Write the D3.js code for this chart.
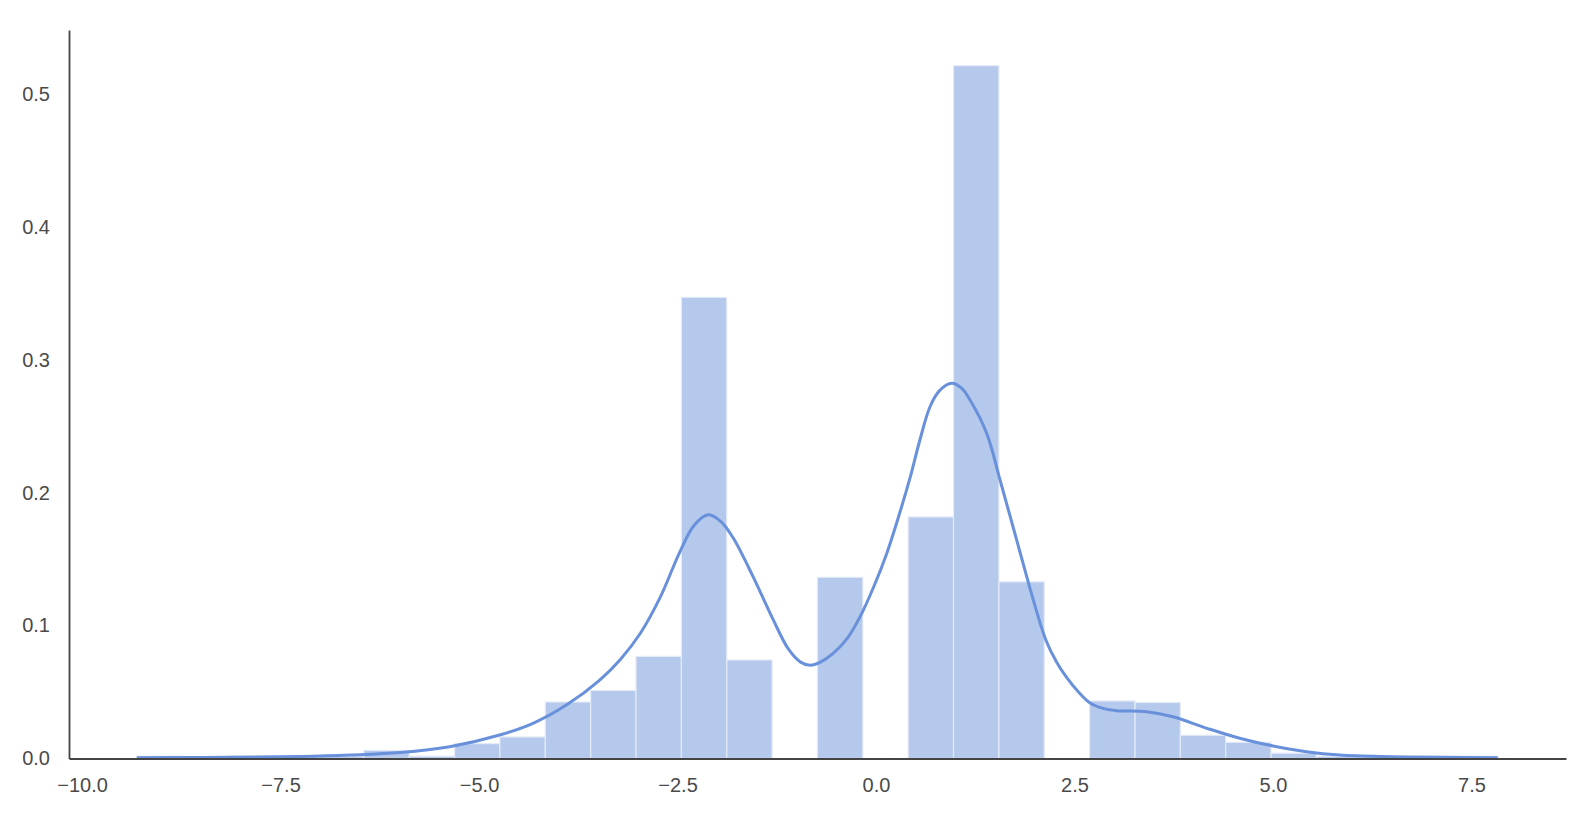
<!DOCTYPE html>
<html>
<head>
<meta charset="utf-8">
<script src="https://cdn.jsdelivr.net/npm/d3@7"></script>
<style>
    body { margin: 0; background: #fff; }
    svg { display: block; }
    .tick text { font-family: "Liberation Sans", Arial, sans-serif; font-size: 20px; fill: #4a4a4a; }
</style>
</head>
<body>
<svg id="chart" width="1586" height="818"></svg>
<script>
// histogram bin edges (31 edges, 30 bins)
const binEdges = [-9.307, -8.736, -8.164, -7.593, -7.022, -6.450, -5.879, -5.308, -4.737, -4.165,
    -3.594, -3.023, -2.451, -1.880, -1.309, -0.738, -0.166, 0.405, 0.976, 1.548,
    2.119, 2.690, 3.262, 3.833, 4.404, 4.975, 5.547, 6.118, 6.690, 7.261, 7.833];

// density per bin
const binDensity = [0.0017, 0, 0.0017, 0.0017, 0.0017, 0.0061, 0.0017, 0.0112, 0.0162, 0.0425,
    0.0512, 0.0768, 0.3469, 0.0741, 0, 0.1363, 0, 0.1817, 0.5212, 0.1329,
    0, 0.0433, 0.0421, 0.0175, 0.0122, 0.0040, 0.0017, 0.0017, 0.0017, 0.0017];

// kde curve
const kdeX = [-9.31, -8.5, -7.8, -7.25, -6.62, -5.99, -5.37, -4.74, -4.32, -3.9,
    -3.48, -3.22, -2.97, -2.72, -2.47, -2.29, -2.11, -1.95, -1.8, -1.55,
    -1.3, -1.1, -0.95, -0.83, -0.7, -0.54, -0.36, -0.2, -0.03, 0.135,
    0.3, 0.43, 0.55, 0.68, 0.8, 0.953, 1.08, 1.184, 1.394, 1.562,
    1.772, 1.981, 2.14, 2.27, 2.4, 2.55, 2.7, 2.87, 3.03, 3.41,
    3.74, 4.17, 4.58, 5.0, 5.42, 5.84, 6.47, 7.1, 7.83];
const kdeY = [0.0006, 0.0008, 0.0011, 0.0015, 0.0026, 0.0045, 0.0089, 0.0177, 0.0265, 0.0402,
    0.059, 0.0745, 0.094, 0.121, 0.1555, 0.1755, 0.1833, 0.178, 0.166, 0.137,
    0.105, 0.082, 0.0725, 0.0702, 0.0725, 0.079, 0.0905, 0.1067, 0.129, 0.1543,
    0.185, 0.2115, 0.239, 0.2646, 0.2767, 0.2822, 0.2784, 0.2696, 0.2446, 0.2095,
    0.1643, 0.1192, 0.089, 0.073, 0.061, 0.050, 0.0415, 0.0375, 0.036, 0.0352,
    0.0314, 0.0227, 0.0152, 0.0094, 0.0051, 0.0026, 0.0014, 0.0009, 0.0006];

const xTicks = [-10, -7.5, -5, -2.5, 0, 2.5, 5, 7.5];
const yTicks = [0, 0.1, 0.2, 0.3, 0.4, 0.5];

const svg = d3.select("#chart");
const plotLeft = 69, plotRight = 1566, plotTop = 30, plotBottom = 758.5;

const x = d3.scaleLinear().domain([-10.164, 8.69]).range([plotLeft, plotRight]);
const y = d3.scaleLinear().domain([0, 0.548]).range([plotBottom, plotTop]);

const bins = binDensity.map(function (d, i) {
    return {x0: binEdges[i], x1: binEdges[i + 1], v: d};
});

svg.append("g")
    .selectAll("rect")
    .data(bins.filter(function (d) { return d.v > 0; }))
    .enter()
    .append("rect")
    .attr("x", function (d) { return x(d.x0); })
    .attr("width", function (d) { return x(d.x1) - x(d.x0); })
    .attr("y", function (d) { return y(d.v); })
    .attr("height", function (d) { return y(0) - y(d.v); })
    .attr("fill", "#b5c9ec")
    .attr("stroke", "#e4eaf7")
    .attr("stroke-width", 1.2);

const line = d3.line()
    .x(function (d) { return x(d[0]); })
    .y(function (d) { return y(d[1]); })
    .curve(d3.curveCatmullRom.alpha(0.5));

svg.append("path")
    .datum(d3.zip(kdeX, kdeY))
    .attr("d", line)
    .attr("fill", "none")
    .attr("stroke", "#6890db")
    .attr("stroke-width", 3)
    .attr("stroke-linejoin", "round");

const fmt = d3.format(".1f");

svg.append("g")
    .attr("transform", "translate(0," + plotBottom + ")")
    .call(d3.axisBottom(x).tickValues(xTicks).tickFormat(fmt).tickSize(0).tickPadding(19));

svg.append("g")
    .attr("transform", "translate(" + plotLeft + ",0)")
    .call(d3.axisLeft(y).tickValues(yTicks).tickFormat(fmt).tickSize(0).tickPadding(19));

svg.selectAll(".domain")
    .attr("stroke", "#444")
    .attr("stroke-width", 1.8);
</script>
</body>
</html>
